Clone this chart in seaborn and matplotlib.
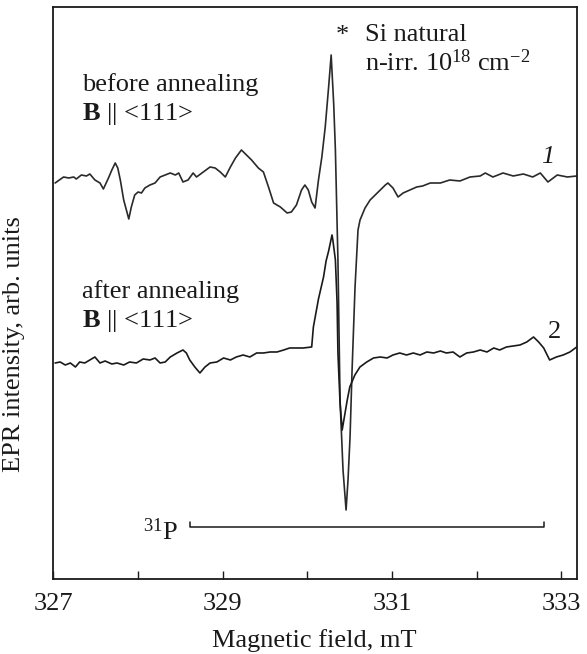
import numpy as np
import pandas as pd
import seaborn as sns
import matplotlib.pyplot as plt
from matplotlib.ticker import MultipleLocator, FuncFormatter

# EPR spectra (field in mT, intensity in arb. units)
b1 = [327.02, 327.12, 327.18, 327.24, 327.27, 327.33, 327.39, 327.43, 327.49, 327.55,
      327.59, 327.65, 327.69, 327.73, 327.76, 327.79, 327.83, 327.89, 327.92, 327.96,
      328.00, 328.04, 328.08, 328.14, 328.20, 328.26, 328.32, 328.38, 328.44, 328.48,
      328.53, 328.59, 328.65, 328.69, 328.77, 328.85, 328.91, 328.97, 329.03, 329.09,
      329.15, 329.22, 329.28, 329.34, 329.42, 329.48, 329.54, 329.60, 329.68, 329.76,
      329.81, 329.87, 329.93, 329.97, 330.01, 330.05, 330.09, 330.13, 330.17, 330.21,
      330.25, 330.28, 330.31, 330.33, 330.36, 330.385, 330.42, 330.456, 330.479, 330.503,
      330.527, 330.562, 330.597, 330.621, 330.68, 330.74, 330.80, 330.86, 330.92, 330.95,
      331.01, 331.07, 331.13, 331.21, 331.29, 331.36, 331.45, 331.57, 331.68, 331.80,
      331.92, 332.04, 332.10, 332.19, 332.31, 332.43, 332.55, 332.66, 332.75, 332.84,
      332.95, 333.07, 333.18]
i1 = [39.6, 40.2, 40.1, 40.2, 40.0, 40.4, 40.3, 40.5, 39.9, 39.6,
      39.0, 40.1, 40.9, 41.6, 41.1, 39.9, 37.9, 36.0, 37.2, 38.4,
      38.7, 38.6, 39.1, 39.4, 39.6, 40.2, 40.4, 40.6, 40.4, 40.6,
      39.7, 39.9, 40.6, 40.2, 40.7, 41.2, 41.1, 40.7, 40.2, 41.2,
      42.1, 42.9, 42.4, 41.9, 41.1, 40.7, 39.2, 37.6, 37.2, 36.6,
      36.7, 37.4, 38.9, 39.4, 38.9, 37.7, 37.1, 39.9, 42.2, 45.2,
      49.2, 52.4, 47.5, 42.9, 31.9, 17.9, 10.9, 6.9, 9.9, 14.2,
      20.9, 29.2, 34.9, 35.9, 37.1, 37.9, 38.4, 38.9, 39.4, 39.6,
      39.1, 38.2, 38.6, 38.9, 39.2, 39.3, 39.6, 39.6, 39.9, 39.8,
      40.2, 40.3, 40.6, 40.2, 40.6, 40.3, 40.5, 40.2, 40.6, 39.7,
      40.4, 40.2, 40.3]

b2 = [327.02, 327.08, 327.14, 327.20, 327.26, 327.31, 327.37, 327.43, 327.49, 327.55,
      327.61, 327.69, 327.75, 327.83, 327.90, 327.98, 328.06, 328.14, 328.20, 328.26,
      328.32, 328.38, 328.46, 328.53, 328.57, 328.61, 328.67, 328.73, 328.79, 328.85,
      328.93, 329.01, 329.09, 329.16, 329.24, 329.32, 329.40, 329.48, 329.56, 329.64,
      329.72, 329.79, 329.87, 329.95, 330.05, 330.07, 330.13, 330.19, 330.22, 330.25,
      330.29, 330.30, 330.33, 330.35, 330.36, 330.385, 330.41, 330.43, 330.47, 330.50,
      330.56, 330.62, 330.70, 330.78, 330.86, 330.94, 331.01, 331.09, 331.17, 331.25,
      331.33, 331.41, 331.49, 331.57, 331.64, 331.72, 331.80, 331.88, 331.96, 332.04,
      332.12, 332.20, 332.27, 332.35, 332.43, 332.51, 332.59, 332.67, 332.73, 332.79,
      332.86, 332.94, 333.02, 333.10, 333.18]
i2 = [21.6, 21.7, 21.4, 21.6, 21.2, 21.7, 21.6, 21.9, 22.2, 21.6,
      21.8, 21.5, 21.6, 21.4, 21.7, 21.6, 22.0, 21.9, 22.1, 21.6,
      21.7, 22.2, 22.6, 22.9, 22.6, 21.9, 21.2, 20.6, 21.2, 21.6,
      21.7, 22.1, 21.9, 22.2, 22.4, 22.2, 22.6, 22.6, 22.7, 22.7,
      22.9, 23.1, 23.1, 23.1, 23.2, 25.2, 28.0, 30.2, 31.8, 32.8,
      34.4, 33.9, 31.9, 27.6, 22.6, 17.6, 14.9, 15.9, 17.9, 19.2,
      20.4, 21.2, 21.7, 22.1, 22.2, 22.1, 22.4, 22.6, 22.4, 22.6,
      22.4, 22.7, 22.6, 22.8, 22.6, 22.7, 22.2, 22.6, 22.7, 22.9,
      22.7, 23.1, 22.9, 23.2, 23.3, 23.4, 23.7, 24.2, 23.7, 23.1,
      21.9, 22.2, 22.4, 22.7, 23.2]

# 31P hyperfine doublet marker
p31_lines = [328.61, 332.79]

df = pd.concat([
    pd.DataFrame({"field": b1, "intensity": i1, "curve": "1"}),
    pd.DataFrame({"field": b2, "intensity": i2, "curve": "2"}),
])

sns.set_theme(style="white")
plt.rcParams["font.family"] = ["Liberation Serif", "DejaVu Serif"]
plt.rcParams["mathtext.fontset"] = "custom"
plt.rcParams["mathtext.rm"] = "Liberation Serif"
plt.rcParams["mathtext.bf"] = "Liberation Serif:bold"
plt.rcParams["mathtext.it"] = "Liberation Serif:italic"

fig, ax = plt.subplots(figsize=(5.87, 6.54), dpi=100)
fig.subplots_adjust(left=0.091, right=0.9825, bottom=0.1147, top=0.9893)

sns.lineplot(data=df, x="field", y="intensity", hue="curve", units="curve",
             estimator=None, sort=False, palette=["#2a2a2a", "#1a1a1a"],
             linewidth=1.2, legend=False, ax=ax)

ax.set_xlim(327, 333.18)
ax.set_ylim(0, 57.2)

# 31P bracket
ax.plot([p31_lines[0], p31_lines[0], p31_lines[1], p31_lines[1]],
        [5.7, 5.2, 5.2, 5.7], color="#1a1a1a", lw=1.1)
ax.text(328.47, 4.7, "$^{31}$P", fontsize=19, ha="right", va="center", color="#1a1a1a")

fs = 19
ax.text(327.34, 49.4, "before annealing", fontsize=fs, va="center", color="#1a1a1a")
ax.text(327.34, 46.5, "$\\mathbf{B}$ || <111>", fontsize=fs, va="center", color="#1a1a1a")
ax.text(327.34, 28.7, "after annealing", fontsize=fs, va="center", color="#1a1a1a")
ax.text(327.34, 25.8, "$\\mathbf{B}$ || <111>", fontsize=fs, va="center", color="#1a1a1a")
ax.text(330.41, 54.3, "*", fontsize=fs, ha="center", va="center", color="#1a1a1a")
ax.text(330.68, 54.4, "Si natural", fontsize=fs, va="center", color="#1a1a1a")
ax.text(330.68, 51.6, "n-irr. 10$^{18}$ cm$^{-2}$", fontsize=fs, va="center", color="#1a1a1a")
ax.text(332.84, 42.2, "1", fontsize=fs, style="italic", ha="center", va="center", color="#1a1a1a")
ax.text(332.92, 24.7, "2", fontsize=fs, ha="center", va="center", color="#1a1a1a")

ax.xaxis.set_major_locator(MultipleLocator(1))
ax.xaxis.set_major_formatter(FuncFormatter(lambda v, p: f"{v:.0f}" if round(v) % 2 == 1 else ""))
ax.tick_params(axis="x", direction="in", length=6, width=1, bottom=True, top=False,
               labelsize=fs, pad=10, colors="#1a1a1a")
ax.tick_params(axis="y", left=False, labelleft=False)

for s in ax.spines.values():
    s.set_color("#1a1a1a")
    s.set_linewidth(1.3)

ax.set_xlabel("Magnetic field, mT", fontsize=fs, color="#1a1a1a")
ax.set_ylabel("EPR intensity, arb. units", fontsize=fs, color="#1a1a1a")
ax.xaxis.set_label_coords(0.498, -0.087)
ax.yaxis.set_label_coords(-0.054, 0.41)

fig.savefig("out.png", dpi=100, facecolor="white")
